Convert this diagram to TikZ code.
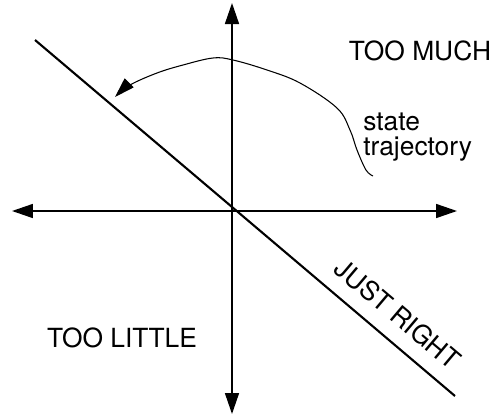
\documentclass[tikz,border=0pt]{standalone}
\usepackage{fontspec}
\setmainfont{TeX Gyre Heros}
\usetikzlibrary{arrows.meta}
\tikzset{
  axis/.style={line width=0.9pt,{Triangle[length=4.2mm,width=2.8mm]}-{Triangle[length=4.2mm,width=2.8mm]}},
  rule/.style={line width=1.2pt},
  traj/.style={line width=0.6pt,-{Triangle[length=4mm,width=2.5mm]}},
  lbl/.style={font=\fontsize{15}{14.2}\selectfont,inner sep=0pt},
}

\begin{document}
\begin{tikzpicture}[x=0.02cm,y=-0.02cm]
  \useasboundingbox (0,0) rectangle (495,417);
  % axes
  \coordinate (west) at (12,211);
  \coordinate (east) at (457,211);
  \coordinate (north) at (232,3);
  \coordinate (south) at (232,414);
  \draw[axis] (west) -- (east);
  \draw[axis] (south) -- (north);
  % the just-right line
  \coordinate (jr0) at (35,40);
  \coordinate (jr1) at (455,396);
  \draw[rule] (jr0) -- (jr1);
  \node[lbl,rotate=-40.2] (just) at (398,314) {JUST RIGHT};
  % labels
  \node[lbl] (much) at (420,51) {TOO MUCH};
  \node[lbl] (little) at (122,338) {TOO LITTLE};
  \node[lbl,align=left,anchor=north west] (state) at (363,113) {state\\trajectory};
  % trajectory
  \draw[traj] plot[smooth,tension=0.6] coordinates {(373,176) (366,170) (357,150)
    (350,130) (337,108) (300,83) (267,70) (233,60) (213,58) (183,65) (157,73)
    (130,85) (115,97)};
\end{tikzpicture}
\end{document}
